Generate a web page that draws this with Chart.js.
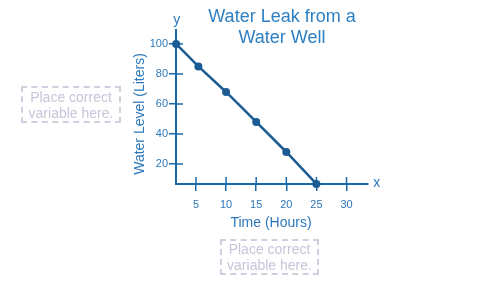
<!DOCTYPE html>
<html>
<head>
<meta charset="utf-8">
<script src="https://cdn.jsdelivr.net/npm/chart.js@4"></script>
<style>
  html, body { margin: 0; padding: 0; background: #fff; }
  #wrap { position: relative; width: 497px; height: 286px; overflow: hidden; font-family: "Liberation Sans", Arial, sans-serif; }
  canvas { position: absolute; left: 0; top: 0; }
  .lbl { position: absolute; white-space: nowrap; }
  .title { left: 182px; width: 200px; top: 6px; text-align: center; font-size: 18px; line-height: 20.6px; color: #2f80c2; }
  .ytitle { left: 138.5px; top: 113.5px; font-size: 14px; line-height: 16px; color: #2d78b9; transform: translate(-50%, -50%) rotate(-90deg); }
  .xtitle { left: 171px; width: 200px; top: 214px; text-align: center; font-size: 14px; line-height: 16px; color: #2d78b9; }
  .axl { font-size: 14px; line-height: 16px; color: #2d78b9; width: 20px; text-align: center; }
  .box { position: absolute; box-sizing: border-box; border: 2px dashed #cfcfe0; color: #c6c6da; font-size: 14px; line-height: 16px; text-align: center; display: flex; align-items: center; justify-content: center; }
</style>
</head>
<body>
<div id="wrap">
  <canvas id="c" width="497" height="286"></canvas>
  <div class="lbl title">Water Leak from a<br>Water Well</div>
  <div class="lbl ytitle">Water Level (Liters)</div>
  <div class="lbl xtitle">Time (Hours)</div>
  <div class="lbl axl" style="left:166.7px; top:10.5px;">y</div>
  <div class="lbl axl" style="left:366.7px; top:174px;">x</div>
  <div class="box" style="left:21px; top:86px; width:100px; height:37px;">Place correct<br>variable here.</div>
  <div class="box" style="left:220px; top:239px; width:99px; height:36px;">Place correct<br>variable here.</div>
</div>
<script>
// Data
const timeHours = [1.7, 5.4, 10, 15, 20, 25];
const waterLiters = [100, 85, 68, 48, 28, 6.7];
const xTickValues = [5, 10, 15, 20, 25, 30];
const yTickValues = [20, 40, 60, 80, 100];

const axisColor = '#1c69a8';
const lineColor = '#1a5b94';
const tickLabelColor = '#2d78b9';

const innerTicks = {
  id: 'innerTicks',
  beforeDatasetsDraw(chart) {
    const ctx = chart.ctx;
    const xs = chart.scales.x, ys = chart.scales.y;
    ctx.save();
    ctx.strokeStyle = axisColor;
    ctx.lineWidth = 1.5;
    ctx.beginPath();
    xs.ticks.forEach(t => {
      const px = xs.getPixelForValue(t.value);
      ctx.moveTo(px, xs.top);
      ctx.lineTo(px, xs.top - 7);
    });
    ys.ticks.forEach(t => {
      const py = ys.getPixelForValue(t.value);
      ctx.moveTo(ys.right, py);
      ctx.lineTo(ys.right + 7, py);
    });
    ctx.stroke();
    ctx.restore();
  }
};

new Chart(document.getElementById('c'), {
  type: 'line',
  data: {
    datasets: [{
      data: timeHours.map((t, i) => ({ x: t, y: waterLiters[i] })),
      borderColor: lineColor,
      backgroundColor: lineColor,
      borderWidth: 2.5,
      pointRadius: 4,
      pointBackgroundColor: lineColor,
      pointBorderWidth: 0,
      tension: 0,
      clip: false
    }]
  },
  options: {
    responsive: false,
    devicePixelRatio: 1,
    animation: false,
    events: [],
    layout: { padding: { left: 130, right: 129, top: 30, bottom: 60 } },
    plugins: { legend: { display: false }, tooltip: { enabled: false }, title: { display: false } },
    scales: {
      x: {
        type: 'linear',
        position: 'bottom',
        min: 1.68,
        max: 33.57,
        afterBuildTicks(scale) { scale.ticks = xTickValues.map(v => ({ value: v })); },
        afterFit(scale) { scale.height = 286 - 60 - 184; },
        ticks: { color: tickLabelColor, font: { family: '"Liberation Sans", Arial, sans-serif', size: 11 }, padding: 7, maxRotation: 0, autoSkip: false },
        grid: { display: true, drawOnChartArea: false, drawTicks: true, tickLength: 7, color: axisColor, lineWidth: 1.5 },
        border: { display: true, color: axisColor, width: 2 }
      },
      y: {
        type: 'linear',
        position: 'left',
        min: 6.67,
        max: 109.3,
        afterBuildTicks(scale) { scale.ticks = yTickValues.map(v => ({ value: v })); },
        afterFit(scale) { scale.width = 176 - 130; },
        ticks: { color: tickLabelColor, font: { family: '"Liberation Sans", Arial, sans-serif', size: 11 }, padding: 1, autoSkip: false },
        grid: { display: true, drawOnChartArea: false, drawTicks: true, tickLength: 7, color: axisColor, lineWidth: 1.5 },
        border: { display: true, color: axisColor, width: 2 }
      }
    }
  },
  plugins: [innerTicks]
});
</script>
</body>
</html>
